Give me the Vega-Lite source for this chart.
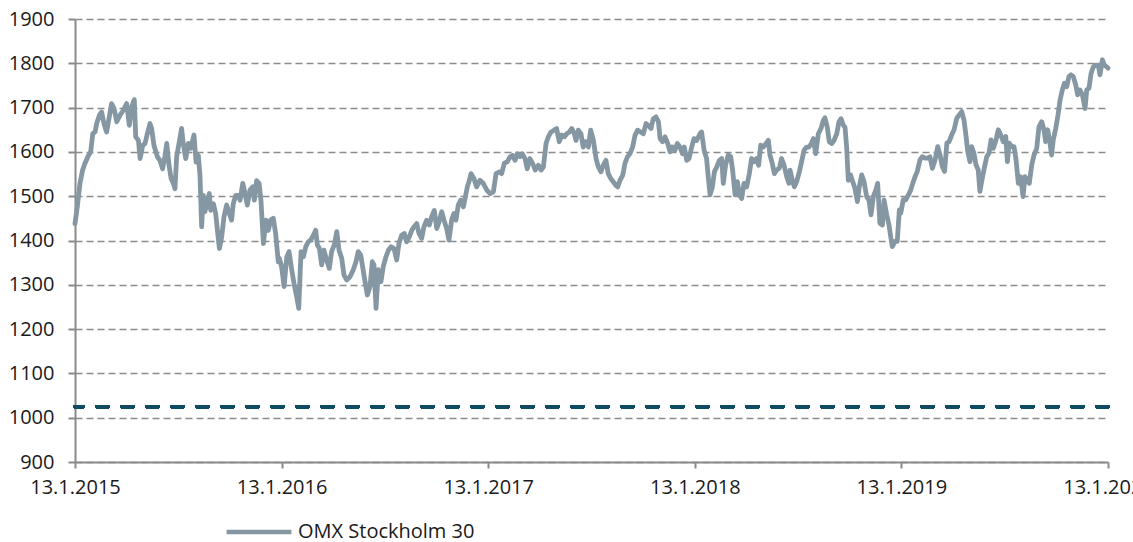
{
  "$schema": "https://vega.github.io/schema/vega-lite/v6.json",
  "width": 1033,
  "height": 443,
  "autosize": {"type": "none"},
  "padding": {"left": 75, "top": 19, "right": 25, "bottom": 80},
  "background": "white",
  "config": {
    "view": {"stroke": null},
    "axis": {
      "labelFont": "Open Sans",
      "labelFontSize": 20,
      "labelColor": "#1a1a1a",
      "domainColor": "#8a8a8a",
      "domainWidth": 2,
      "tickColor": "#8a8a8a",
      "tickWidth": 2,
      "title": null
    },
    "legend": {"labelFont": "Open Sans", "labelFontSize": 20, "labelColor": "#1a1a1a", "labelLimit": 500}
  },
  "data": {"values": [
    {"t":2015.000,"v":1438},{"t":2015.011,"v":1476},{"t":2015.024,"v":1529},{"t":2015.037,"v":1559},{"t":2015.048,"v":1574},{"t":2015.065,"v":1592},{"t":2015.076,"v":1600},{"t":2015.086,"v":1641},{"t":2015.097,"v":1645},{"t":2015.105,"v":1664},{"t":2015.118,"v":1683},{"t":2015.129,"v":1690},{"t":2015.140,"v":1664},{"t":2015.153,"v":1645},{"t":2015.166,"v":1679},{"t":2015.177,"v":1709},{"t":2015.189,"v":1698},{"t":2015.202,"v":1668},{"t":2015.218,"v":1683},{"t":2015.234,"v":1694},{"t":2015.250,"v":1709},{"t":2015.263,"v":1660},{"t":2015.274,"v":1701},{"t":2015.287,"v":1718},{"t":2015.294,"v":1634},{"t":2015.307,"v":1626},{"t":2015.315,"v":1585},{"t":2015.328,"v":1615},{"t":2015.339,"v":1619},{"t":2015.350,"v":1641},{"t":2015.363,"v":1664},{"t":2015.371,"v":1653},{"t":2015.382,"v":1615},{"t":2015.399,"v":1589},{"t":2015.411,"v":1581},{"t":2015.424,"v":1562},{"t":2015.436,"v":1592},{"t":2015.444,"v":1619},{"t":2015.455,"v":1570},{"t":2015.465,"v":1540},{"t":2015.476,"v":1529},{"t":2015.484,"v":1517},{"t":2015.492,"v":1589},{"t":2015.505,"v":1623},{"t":2015.516,"v":1653},{"t":2015.524,"v":1619},{"t":2015.536,"v":1585},{"t":2015.549,"v":1619},{"t":2015.560,"v":1608},{"t":2015.576,"v":1638},{"t":2015.586,"v":1577},{"t":2015.597,"v":1592},{"t":2015.605,"v":1547},{"t":2015.613,"v":1431},{"t":2015.621,"v":1502},{"t":2015.629,"v":1465},{"t":2015.641,"v":1491},{"t":2015.650,"v":1506},{"t":2015.657,"v":1468},{"t":2015.670,"v":1483},{"t":2015.681,"v":1461},{"t":2015.691,"v":1416},{"t":2015.699,"v":1382},{"t":2015.710,"v":1408},{"t":2015.721,"v":1453},{"t":2015.734,"v":1480},{"t":2015.747,"v":1461},{"t":2015.758,"v":1446},{"t":2015.766,"v":1483},{"t":2015.778,"v":1502},{"t":2015.791,"v":1502},{"t":2015.799,"v":1491},{"t":2015.812,"v":1529},{"t":2015.823,"v":1506},{"t":2015.834,"v":1480},{"t":2015.847,"v":1514},{"t":2015.860,"v":1521},{"t":2015.868,"v":1491},{"t":2015.879,"v":1535},{"t":2015.891,"v":1529},{"t":2015.900,"v":1491},{"t":2015.912,"v":1393},{"t":2015.924,"v":1446},{"t":2015.936,"v":1423},{"t":2015.947,"v":1446},{"t":2015.960,"v":1450},{"t":2015.971,"v":1416},{"t":2015.984,"v":1352},
    {"t":2015.989,"v":1360},{"t":2016.000,"v":1341},{"t":2016.012,"v":1296},{"t":2016.025,"v":1363},{"t":2016.036,"v":1375},{"t":2016.049,"v":1334},{"t":2016.060,"v":1303},{"t":2016.073,"v":1273},{"t":2016.083,"v":1247},{"t":2016.094,"v":1375},{"t":2016.105,"v":1363},{"t":2016.117,"v":1386},{"t":2016.129,"v":1397},{"t":2016.141,"v":1401},{"t":2016.154,"v":1412},{"t":2016.165,"v":1423},{"t":2016.173,"v":1390},{"t":2016.183,"v":1382},{"t":2016.194,"v":1345},{"t":2016.205,"v":1378},{"t":2016.218,"v":1356},{"t":2016.231,"v":1337},{"t":2016.242,"v":1375},{"t":2016.255,"v":1390},{"t":2016.267,"v":1420},{"t":2016.278,"v":1378},{"t":2016.291,"v":1360},{"t":2016.302,"v":1322},{"t":2016.315,"v":1311},{"t":2016.331,"v":1318},{"t":2016.347,"v":1334},{"t":2016.360,"v":1352},{"t":2016.371,"v":1375},{"t":2016.383,"v":1367},{"t":2016.392,"v":1341},{"t":2016.404,"v":1307},{"t":2016.415,"v":1277},{"t":2016.428,"v":1296},{"t":2016.439,"v":1352},{"t":2016.447,"v":1345},{"t":2016.457,"v":1247},{"t":2016.468,"v":1334},{"t":2016.481,"v":1307},{"t":2016.492,"v":1341},{"t":2016.505,"v":1363},{"t":2016.517,"v":1378},{"t":2016.530,"v":1386},{"t":2016.544,"v":1382},{"t":2016.557,"v":1356},{"t":2016.568,"v":1393},{"t":2016.581,"v":1412},{"t":2016.594,"v":1416},{"t":2016.605,"v":1397},{"t":2016.618,"v":1408},{"t":2016.630,"v":1423},{"t":2016.641,"v":1431},{"t":2016.654,"v":1438},{"t":2016.665,"v":1416},{"t":2016.678,"v":1405},{"t":2016.689,"v":1431},{"t":2016.702,"v":1446},{"t":2016.715,"v":1435},{"t":2016.726,"v":1453},{"t":2016.739,"v":1468},{"t":2016.751,"v":1427},{"t":2016.762,"v":1442},{"t":2016.775,"v":1465},{"t":2016.786,"v":1446},{"t":2016.799,"v":1427},{"t":2016.810,"v":1401},{"t":2016.823,"v":1446},{"t":2016.834,"v":1461},{"t":2016.844,"v":1446},{"t":2016.855,"v":1480},{"t":2016.867,"v":1491},{"t":2016.880,"v":1476},{"t":2016.888,"v":1495},{"t":2016.899,"v":1521},{"t":2016.909,"v":1536},{"t":2016.917,"v":1551},{"t":2016.931,"v":1540},{"t":2016.944,"v":1521},
    {"t":2016.960,"v":1536},{"t":2016.976,"v":1529},{"t":2016.993,"v":1514},{"t":2017.009,"v":1506},{"t":2017.025,"v":1510},{"t":2017.038,"v":1551},{"t":2017.054,"v":1555},{"t":2017.065,"v":1551},{"t":2017.078,"v":1574},{"t":2017.093,"v":1578},{"t":2017.106,"v":1589},{"t":2017.118,"v":1592},{"t":2017.130,"v":1581},{"t":2017.141,"v":1596},{"t":2017.154,"v":1589},{"t":2017.165,"v":1596},{"t":2017.178,"v":1585},{"t":2017.189,"v":1562},{"t":2017.202,"v":1585},{"t":2017.215,"v":1574},{"t":2017.228,"v":1559},{"t":2017.243,"v":1570},{"t":2017.256,"v":1559},{"t":2017.267,"v":1566},{"t":2017.280,"v":1619},{"t":2017.291,"v":1634},{"t":2017.304,"v":1645},{"t":2017.318,"v":1649},{"t":2017.331,"v":1653},{"t":2017.344,"v":1623},{"t":2017.356,"v":1638},{"t":2017.369,"v":1634},{"t":2017.380,"v":1641},{"t":2017.393,"v":1645},{"t":2017.404,"v":1653},{"t":2017.417,"v":1641},{"t":2017.425,"v":1626},{"t":2017.436,"v":1649},{"t":2017.449,"v":1641},{"t":2017.460,"v":1611},{"t":2017.472,"v":1623},{"t":2017.485,"v":1611},{"t":2017.496,"v":1649},{"t":2017.509,"v":1626},{"t":2017.522,"v":1585},{"t":2017.533,"v":1566},{"t":2017.546,"v":1555},{"t":2017.557,"v":1570},{"t":2017.570,"v":1581},{"t":2017.581,"v":1551},{"t":2017.593,"v":1540},{"t":2017.606,"v":1532},{"t":2017.617,"v":1525},{"t":2017.627,"v":1521},{"t":2017.638,"v":1536},{"t":2017.651,"v":1547},{"t":2017.662,"v":1574},{"t":2017.674,"v":1589},{"t":2017.686,"v":1596},{"t":2017.699,"v":1611},{"t":2017.711,"v":1638},{"t":2017.723,"v":1649},{"t":2017.738,"v":1645},{"t":2017.751,"v":1641},{"t":2017.764,"v":1664},{"t":2017.775,"v":1660},{"t":2017.788,"v":1653},{"t":2017.799,"v":1675},{"t":2017.812,"v":1679},{"t":2017.824,"v":1668},{"t":2017.832,"v":1630},{"t":2017.844,"v":1623},{"t":2017.856,"v":1634},{"t":2017.869,"v":1619},{"t":2017.880,"v":1600},{"t":2017.891,"v":1611},{"t":2017.904,"v":1604},{"t":2017.915,"v":1619},{"t":2017.928,"v":1611},{"t":2017.940,"v":1596},{"t":2017.949,"v":1611},{"t":2017.961,"v":1581},{"t":2017.972,"v":1585},{"t":2017.985,"v":1611},{"t":2017.996,"v":1630},{"t":2018.009,"v":1626},{"t":2018.022,"v":1638},
    {"t":2018.025,"v":1641},{"t":2018.033,"v":1645},{"t":2018.045,"v":1604},{"t":2018.057,"v":1585},{"t":2018.065,"v":1544},{"t":2018.074,"v":1503},{"t":2018.085,"v":1521},{"t":2018.095,"v":1555},{"t":2018.106,"v":1566},{"t":2018.119,"v":1581},{"t":2018.130,"v":1585},{"t":2018.138,"v":1529},{"t":2018.149,"v":1570},{"t":2018.162,"v":1593},{"t":2018.174,"v":1589},{"t":2018.183,"v":1559},{"t":2018.195,"v":1503},{"t":2018.206,"v":1533},{"t":2018.216,"v":1503},{"t":2018.227,"v":1495},{"t":2018.238,"v":1529},{"t":2018.251,"v":1521},{"t":2018.264,"v":1551},{"t":2018.275,"v":1585},{"t":2018.287,"v":1578},{"t":2018.299,"v":1585},{"t":2018.309,"v":1570},{"t":2018.319,"v":1615},{"t":2018.332,"v":1611},{"t":2018.345,"v":1619},{"t":2018.356,"v":1626},{"t":2018.364,"v":1593},{"t":2018.375,"v":1574},{"t":2018.385,"v":1551},{"t":2018.396,"v":1559},{"t":2018.409,"v":1563},{"t":2018.420,"v":1585},{"t":2018.432,"v":1570},{"t":2018.445,"v":1544},{"t":2018.456,"v":1529},{"t":2018.461,"v":1559},{"t":2018.472,"v":1536},{"t":2018.482,"v":1521},{"t":2018.493,"v":1533},{"t":2018.506,"v":1555},{"t":2018.517,"v":1578},{"t":2018.529,"v":1604},{"t":2018.541,"v":1611},{"t":2018.553,"v":1611},{"t":2018.564,"v":1619},{"t":2018.574,"v":1630},{"t":2018.585,"v":1596},{"t":2018.598,"v":1641},{"t":2018.611,"v":1653},{"t":2018.622,"v":1671},{"t":2018.630,"v":1677},{"t":2018.641,"v":1656},{"t":2018.651,"v":1623},{"t":2018.663,"v":1619},{"t":2018.674,"v":1626},{"t":2018.687,"v":1641},{"t":2018.698,"v":1668},{"t":2018.708,"v":1675},{"t":2018.719,"v":1660},{"t":2018.727,"v":1656},{"t":2018.735,"v":1611},{"t":2018.743,"v":1536},{"t":2018.754,"v":1548},{"t":2018.767,"v":1529},{"t":2018.775,"v":1518},{"t":2018.787,"v":1488},{"t":2018.796,"v":1521},{"t":2018.808,"v":1548},{"t":2018.819,"v":1533},{"t":2018.832,"v":1499},{"t":2018.843,"v":1491},{"t":2018.853,"v":1458},{"t":2018.864,"v":1499},{"t":2018.876,"v":1514},{"t":2018.885,"v":1529},{"t":2018.896,"v":1439},{"t":2018.908,"v":1435},{"t":2018.916,"v":1491},{"t":2018.929,"v":1458},{"t":2018.940,"v":1435},{"t":2018.948,"v":1409},{"t":2018.956,"v":1386},{"t":2018.969,"v":1398},{"t":2018.980,"v":1398},{"t":2018.990,"v":1469},
    {"t":2018.997,"v":1462},{"t":2019.009,"v":1492},{"t":2019.021,"v":1492},{"t":2019.034,"v":1503},{"t":2019.045,"v":1514},{"t":2019.055,"v":1529},{"t":2019.066,"v":1544},{"t":2019.077,"v":1556},{"t":2019.090,"v":1582},{"t":2019.101,"v":1589},{"t":2019.114,"v":1586},{"t":2019.126,"v":1586},{"t":2019.138,"v":1589},{"t":2019.150,"v":1563},{"t":2019.163,"v":1582},{"t":2019.176,"v":1612},{"t":2019.187,"v":1593},{"t":2019.198,"v":1567},{"t":2019.209,"v":1556},{"t":2019.220,"v":1620},{"t":2019.231,"v":1623},{"t":2019.243,"v":1638},{"t":2019.255,"v":1650},{"t":2019.268,"v":1676},{"t":2019.279,"v":1683},{"t":2019.292,"v":1691},{"t":2019.303,"v":1672},{"t":2019.313,"v":1635},{"t":2019.321,"v":1601},{"t":2019.332,"v":1578},{"t":2019.340,"v":1612},{"t":2019.351,"v":1597},{"t":2019.361,"v":1571},{"t":2019.372,"v":1559},{"t":2019.380,"v":1511},{"t":2019.390,"v":1537},{"t":2019.401,"v":1563},{"t":2019.413,"v":1589},{"t":2019.424,"v":1597},{"t":2019.434,"v":1627},{"t":2019.445,"v":1608},{"t":2019.458,"v":1627},{"t":2019.469,"v":1650},{"t":2019.481,"v":1638},{"t":2019.493,"v":1623},{"t":2019.505,"v":1635},{"t":2019.513,"v":1578},{"t":2019.522,"v":1620},{"t":2019.534,"v":1612},{"t":2019.545,"v":1612},{"t":2019.555,"v":1582},{"t":2019.566,"v":1529},{"t":2019.577,"v":1544},{"t":2019.589,"v":1499},{"t":2019.598,"v":1544},{"t":2019.610,"v":1537},{"t":2019.619,"v":1529},{"t":2019.631,"v":1571},{"t":2019.642,"v":1593},{"t":2019.655,"v":1608},{"t":2019.666,"v":1657},{"t":2019.679,"v":1668},{"t":2019.690,"v":1650},{"t":2019.698,"v":1623},{"t":2019.708,"v":1650},{"t":2019.719,"v":1620},{"t":2019.727,"v":1593},{"t":2019.735,"v":1627},{"t":2019.747,"v":1653},{"t":2019.757,"v":1680},{"t":2019.768,"v":1717},{"t":2019.779,"v":1740},{"t":2019.789,"v":1755},{"t":2019.800,"v":1747},{"t":2019.811,"v":1770},{"t":2019.821,"v":1774},{"t":2019.832,"v":1770},{"t":2019.844,"v":1751},{"t":2019.853,"v":1729},{"t":2019.864,"v":1740},{"t":2019.876,"v":1729},{"t":2019.889,"v":1698},{"t":2019.897,"v":1740},{"t":2019.908,"v":1744},{"t":2019.918,"v":1777},{"t":2019.929,"v":1792},{"t":2019.940,"v":1796},{"t":2019.953,"v":1796},{"t":2019.961,"v":1774},{"t":2019.973,"v":1808},{"t":2019.982,"v":1796},{"t":2019.994,"v":1792},{"t":2020.000,"v":1789}
  ]},
  "layer": [
    {
      "mark": {"type": "rule", "color": "#0f4c62", "strokeWidth": 3, "strokeDash": [11, 14], "strokeCap": "round"},
      "encoding": {"y": {"datum": 1025, "type": "quantitative"}}
    },
    {
      "mark": {"type": "line", "strokeWidth": 4.8, "strokeJoin": "round", "strokeCap": "round"},
      "encoding": {
        "x": {
          "field": "t", "type": "quantitative",
          "scale": {"domain": [2015, 2020], "nice": false, "zero": false},
          "axis": {
            "values": [2015, 2016, 2017, 2018, 2019, 2020],
            "labelExpr": "'13.1.' + datum.value",
            "grid": false,
            "tickSize": 6,
            "labelPadding": 9,
            "labelFlush": false,
            "labelOverlap": false
          }
        },
        "y": {
          "field": "v", "type": "quantitative",
          "scale": {"domain": [900, 1900], "nice": false, "zero": false},
          "axis": {
            "values": [900, 1000, 1100, 1200, 1300, 1400, 1500, 1600, 1700, 1800, 1900],
            "format": "d",
            "grid": true,
            "gridColor": "#8c8c8c",
            "gridDash": [7, 4],
            "gridWidth": 1.5,
            "tickSize": 7,
            "labelPadding": 14
          }
        },
        "color": {
          "datum": "OMX Stockholm 30",
          "scale": {"range": ["#8597a3"]},
          "legend": {
            "title": null,
            "orient": "none",
            "legendX": 149,
            "legendY": 478,
            "symbolType": "stroke",
            "symbolSize": 4200,
            "symbolStrokeWidth": 4.5,
            "labelOffset": 4,
            "labelLimit": 500
          }
        }
      }
    }
  ]
}
